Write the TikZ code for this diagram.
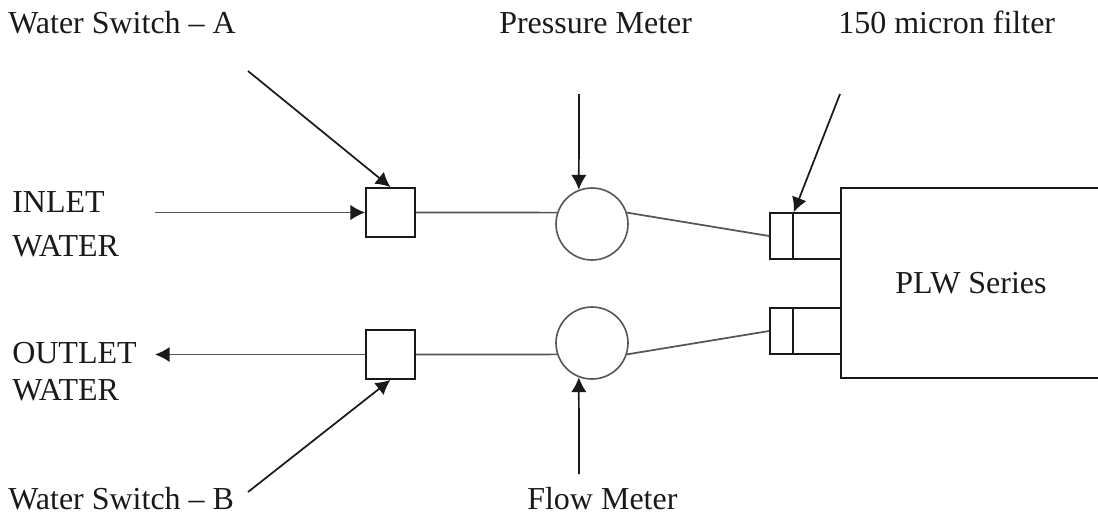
\documentclass[tikz,border=0pt]{standalone}
\usepackage{fontspec}
\setmainfont{Liberation Serif}
\usetikzlibrary{arrows.meta,positioning}
\definecolor{ink}{HTML}{1A1A1A}
\definecolor{pipe}{HTML}{555555}
\tikzset{switchbox/.style={draw=ink,line width=1.3pt,minimum size=36.75pt,inner sep=0pt},meterdisk/.style={circle,draw=pipe,line width=1.2pt,minimum size=54pt,inner sep=0pt},filterend/.style={draw=ink,line width=1.3pt,minimum height=34.5pt,inner sep=0pt},pipeline/.style={draw=pipe,line width=1.3pt},callout/.style={draw=ink,line width=1.3pt,-{Latex[length=11pt,width=11.5pt,color=ink]}},figlabel/.style={font=\fontsize{24}{28}\selectfont,text=ink,inner sep=0pt,anchor=base west}}

\begin{document}
\begin{tikzpicture}[x=.75pt,y=-.75pt]
\useasboundingbox (0,0) rectangle (1098,514);
\node[switchbox] (swa) at (390.5,212.5) {};
\node[switchbox] (swb) at (390.5,354.5) {};
\node[meterdisk] (pm) at (592,224) {};
\node[meterdisk] (fm) at (592,343) {};
\node[filterend,minimum width=17.25pt] (fa) at (781.5,236) {};
\node[filterend,minimum width=36pt] (fb) at (817,236) {};
\node[filterend,minimum width=17.25pt] (fc) at (781.5,331) {};
\node[filterend,minimum width=36pt] (fd) at (817,331) {};
\draw[ink,line width=1.3pt] (1098,188)--(841,188)--(841,378)--(1098,378);
\node[figlabel] (plw) at (895,293) {PLW Series};
\node[figlabel] (lbla) at (8,33) {Water Switch -- A};
\node[figlabel] (lblp) at (499,33) {Pressure Meter};
\node[figlabel] (lblf) at (838,33) {150 micron filter};
\node[figlabel] (lblin) at (12,212) {INLET};
\node[figlabel] (lblw) at (12,256) {WATER};
\node[figlabel] (lblout) at (12,363) {OUTLET};
\node[figlabel] (lblo) at (12,400) {WATER};
\node[figlabel] (lblb) at (8,509) {Water Switch -- B};
\node[figlabel] (lblm) at (527,509) {Flow Meter};
\coordinate (ca) at (248,71);
\coordinate (cp) at (579,94);
\coordinate (cf) at (840,94);
\coordinate (cin) at (155,212.5);
\coordinate (cout) at (155,354.5);
\coordinate (cb) at (248,492);
\coordinate (cm) at (579,474);
\draw[pipeline] (swa.east)--(pm.162);
\draw[pipeline] (swb.east)--(fm.198);
\draw[pipeline] (pm.18)--(fa.west);
\draw[pipeline] (fm.-18)--(fc.west);
\draw[callout] (ca)--(swa.north);
\draw[callout] (cp)--(pm.111);
\draw[callout] (cf)--(fa.north east);
\draw[callout,draw=pipe] (cin)--(swa.west);
\draw[callout,draw=pipe] (swb.west)--(cout);
\draw[callout] (cb)--(swb.south);
\draw[callout] (cm)--(fm.249);
\end{tikzpicture}
\end{document}
